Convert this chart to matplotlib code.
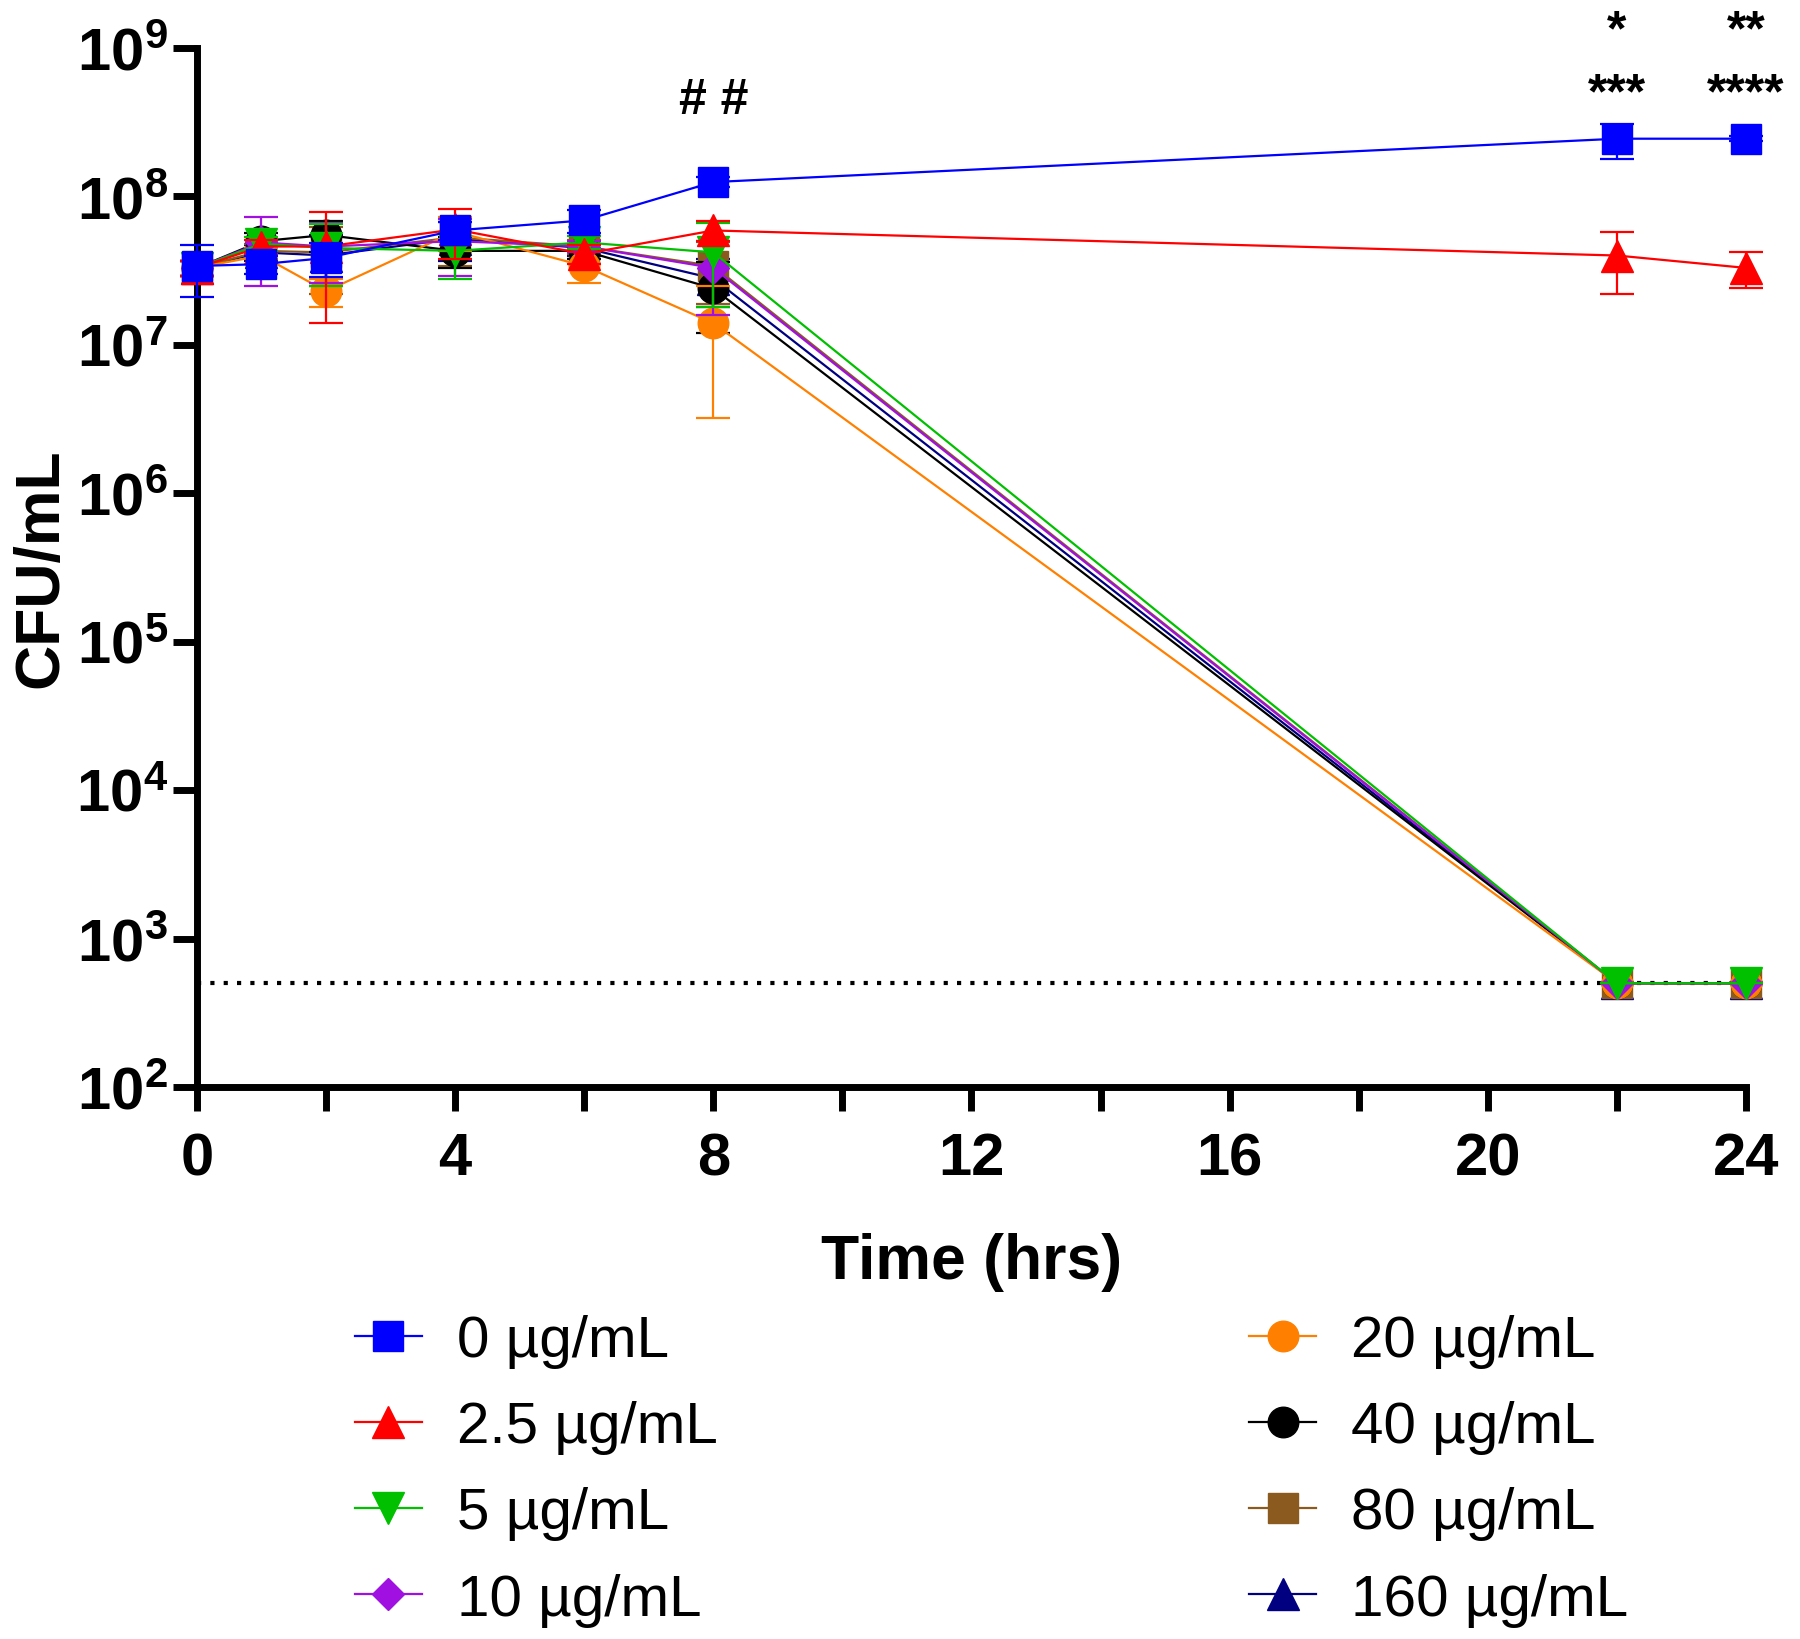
import matplotlib
matplotlib.use('Agg')
import matplotlib.pyplot as plt
from matplotlib.lines import Line2D

plt.rcParams['font.family'] = ['Liberation Sans', 'DejaVu Sans']
plt.rcParams['mathtext.fontset'] = 'custom'
plt.rcParams['mathtext.rm'] = 'Liberation Sans:bold'
plt.rcParams['mathtext.it'] = 'Liberation Sans:bold:italic'
plt.rcParams['mathtext.bf'] = 'Liberation Sans:bold'

# ---------------- data ----------------
times = [0, 1, 2, 4, 6, 8, 22, 24]
series_labels = ['0 µg/mL', '2.5 µg/mL', '5 µg/mL', '10 µg/mL',
                 '20 µg/mL', '40 µg/mL', '80 µg/mL', '160 µg/mL']

cfu_0 = [3.4e7, 3.5e7, 3.85e7, 5.9e7, 6.9e7, 1.25e8, 2.45e8, 2.45e8]
sd_0 = [1.3e7, 0.5e7, 1.0e7, 0.8e7, 1.2e7, 0.1e8, 0.65e8, 0.1e8]

cfu_2_5 = [3.3e7, 4.6e7, 4.6e7, 6.0e7, 4.1e7, 5.9e7, 4.0e7, 3.3e7]
sd_2_5 = [0.4e7, 0.5e7, 3.2e7, 2.2e7, 0.6e7, 0.9e7, 1.8e7, 0.9e7]

cfu_5 = [3.3e7, 4.8e7, 4.5e7, 4.3e7, 4.9e7, 4.2e7, 500, 500]
sd_5 = [0.4e7, 0.5e7, 2.0e7, 1.5e7, 0.5e7, 2.4e7, 0, 0]

cfu_10 = [3.3e7, 4.9e7, 4.6e7, 5.0e7, 4.6e7, 3.3e7, 500, 500]
sd_10 = [0.4e7, 2.4e7, 2.0e7, 2.1e7, 0.4e7, 1.7e7, 0, 0]

cfu_20 = [3.3e7, 4.0e7, 2.3e7, 5.8e7, 3.4e7, 1.4e7, 500, 500]
sd_20 = [0.4e7, 0.5e7, 0.5e7, 1.5e7, 0.8e7, 1.08e7, 0, 0]

cfu_40 = [3.3e7, 5.0e7, 5.5e7, 4.3e7, 4.3e7, 2.4e7, 500, 500]
sd_40 = [0.4e7, 0.7e7, 1.3e7, 1.0e7, 0.5e7, 1.2e7, 0, 0]

cfu_80 = [3.3e7, 4.3e7, 4.2e7, 5.3e7, 4.6e7, 3.4e7, 500, 500]
sd_80 = [0.4e7, 0.5e7, 2.0e7, 1.9e7, 0.5e7, 1.5e7, 0, 0]

cfu_160 = [3.3e7, 4.2e7, 4.0e7, 5.2e7, 4.5e7, 2.8e7, 500, 500]
sd_160 = [0.4e7, 0.5e7, 1.5e7, 1.5e7, 0.5e7, 1.0e7, 0, 0]

detection_limit = 500

y_ticks = [1e2, 1e3, 1e4, 1e5, 1e6, 1e7, 1e8, 1e9]
y_tick_labels = [r'$\mathrm{10^{2}}$', r'$\mathrm{10^{3}}$', r'$\mathrm{10^{4}}$',
                 r'$\mathrm{10^{5}}$', r'$\mathrm{10^{6}}$', r'$\mathrm{10^{7}}$',
                 r'$\mathrm{10^{8}}$', r'$\mathrm{10^{9}}$']
x_major = [0, 4, 8, 12, 16, 20, 24]
x_minor = [2, 6, 10, 14, 18, 22]

annotations = [(8, 4.5e8, '# #'), (22, 1.3e9, '*'), (22, 4.9e8, '***'),
               (24, 1.3e9, '**'), (24, 4.9e8, '****')]

# ---------------- styles ----------------
means = [cfu_0, cfu_2_5, cfu_5, cfu_10, cfu_20, cfu_40, cfu_80, cfu_160]
sds = [sd_0, sd_2_5, sd_5, sd_10, sd_20, sd_40, sd_80, sd_160]
colors = ['#0000FF', '#FF0000', '#00C000', '#A010E0',
          '#FF8000', '#000000', '#8B5A1E', '#000080']
markers = ['s', '^', 'v', 'D', 'o', 'o', 's', '^']
msizes = [22, 23, 23, 16, 22, 22, 22, 23]

fig = plt.figure(figsize=(18, 16.4), dpi=100)
ax = fig.add_axes([0.1094, 0.3366, 0.8606, 0.6335])
ax.set_yscale('log')

handles = []
n = len(means)
for i in reversed(range(n)):
    c = colors[i]
    cont = ax.errorbar(times, means[i], yerr=sds[i], color=c, ecolor=c,
                       marker=markers[i], ms=msizes[i], mec=c, mfc=c,
                       lw=1.6, elinewidth=1.6, capsize=12, capthick=1.6,
                       zorder=3 + (n - i))
    for art in cont.get_children():
        art.set_clip_on(False)
        art.set_zorder(3 + (n - i))

for i in range(n):
    handles.append(Line2D([], [], color=colors[i], marker=markers[i],
                          ms=msizes[i], lw=1.6, mec=colors[i], mfc=colors[i]))

ax.plot([0, 24], [detection_limit, detection_limit], color='black',
        lw=3, ls=(0, (1, 2.2)), zorder=2.6, clip_on=False)

ax.set_xlim(0, 24)
ax.set_ylim(1e2, 1e9)
ax.set_yticks(y_ticks, labels=y_tick_labels)
ax.minorticks_off()
ax.set_xticks(x_major)
ax.set_xticks(x_minor, minor=True)
ax.set_xticklabels([str(v) for v in x_major], fontweight='bold')

for s in ['top', 'right']:
    ax.spines[s].set_visible(False)
for s in ['left', 'bottom']:
    ax.spines[s].set_linewidth(5)

ax.tick_params(axis='both', which='both', length=17, width=5, labelsize=43)
ax.tick_params(axis='x', which='both', pad=15)
ax.tick_params(axis='y', which='both', pad=4)

ax.set_xlabel('Time (hrs)', fontsize=45, fontweight='bold', labelpad=33)
ax.set_ylabel('CFU/mL', fontsize=45, fontweight='bold', labelpad=4)

for x, y, t in annotations:
    ax.text(x, y, t, ha='center', va='center', fontsize=36, fontweight='bold',
            clip_on=False)

leg1 = fig.legend(handles[:4], series_labels[:4], loc='upper left',
                  bbox_to_anchor=(0.197, 0.198), frameon=False, fontsize=42,
                  handlelength=1.15, handletextpad=0.6, labelspacing=0.55,
                  borderpad=0, borderaxespad=0)
leg2 = fig.legend(handles[4:], series_labels[4:], loc='upper left',
                  bbox_to_anchor=(0.694, 0.198), frameon=False, fontsize=42,
                  handlelength=1.15, handletextpad=0.6, labelspacing=0.55,
                  borderpad=0, borderaxespad=0)

fig.savefig('out.png', dpi=100)
